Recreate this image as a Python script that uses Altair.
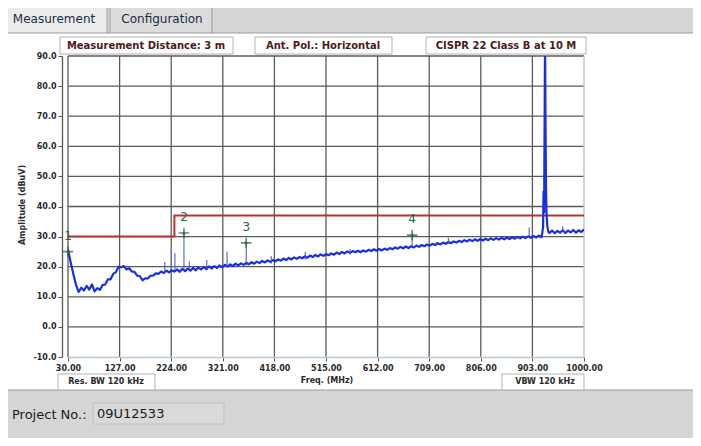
import altair as alt
import pandas as pd

# ---------------- data ----------------
X_TICKS = [30, 127, 224, 321, 418, 515, 612, 709, 806, 903, 1000]
Y_TICKS = [-10, 0, 10, 20, 30, 40, 50, 60, 70, 80, 90]

# sweep 30..920 MHz, 5 MHz steps (peak-detector trace, noisy)
TRACE_LOW_MHZ = list(range(30, 921, 5))
TRACE_LOW_DBUV = [
    25.6, 21.5, 17.6, 14.0, 11.6, 13.0, 12.1, 13.6, 12.4, 14.1,
    11.8, 12.9, 12.3, 13.9, 14.1, 15.8, 15.8, 17.6, 18.2, 20.0,
    19.8, 20.2, 19.1, 19.5, 18.4, 18.3, 17.0, 16.9, 15.5, 16.1,
    16.1, 17.0, 17.0, 17.8, 17.6, 18.4, 17.9, 18.7, 18.1, 18.8,
    18.4, 19.1, 18.3, 19.3, 18.5, 19.4, 18.7, 19.6, 18.8, 19.7,
    19.1, 19.9, 19.2, 20.1, 19.4, 20.2, 19.6, 20.4, 19.8, 20.6,
    20.0, 20.8, 20.2, 21.0, 20.4, 21.1, 20.6, 21.3, 20.8, 21.5,
    21.0, 21.7, 21.2, 21.9, 21.4, 22.1, 21.6, 22.2, 21.8, 22.4,
    22.0, 22.7, 22.2, 22.9, 22.4, 23.1, 22.6, 23.2, 22.8, 23.4,
    23.0, 23.7, 23.2, 23.9, 23.4, 24.1, 23.6, 24.2, 23.8, 24.4,
    24.0, 24.7, 24.2, 24.9, 24.4, 25.1, 24.6, 25.2, 24.8, 25.3,
    24.8, 25.4, 25.0, 25.6, 25.2, 25.8, 25.3, 25.9, 25.4, 26.0,
    25.6, 26.2, 25.8, 26.4, 26.0, 26.6, 26.1, 26.7, 26.2, 26.8,
    26.4, 27.0, 26.6, 27.2, 26.8, 27.4, 27.0, 27.6, 27.2, 27.8,
    27.4, 28.0, 27.6, 28.2, 27.8, 28.4, 28.0, 28.6, 28.2, 28.8,
    28.4, 29.0, 28.5, 29.1, 28.6, 29.2, 28.7, 29.3, 28.8, 29.4,
    28.9, 29.5, 29.0, 29.6, 29.1, 29.7, 29.2, 29.8, 29.3, 29.9,
    29.4, 30.0, 29.5, 30.1, 29.6, 30.2, 29.7, 30.3, 29.8,
]
# the carrier near 927 MHz
PEAK_MHZ = [921, 923, 924, 925, 926, 926.8, 927.6, 928.5, 929.5, 931, 933]
PEAK_DBUV = [30.6, 33.0, 45.0, 38.0, 70.0, 96.0, 70.0, 48.0, 38.0, 33.5, 31.6]
# sweep 935..1000 MHz
TRACE_HIGH_MHZ = list(range(935, 1001, 5))
TRACE_HIGH_DBUV = [31.2, 32.0, 31.1, 31.9, 31.3, 32.1, 31.2, 32.0, 31.4, 32.2,
                   31.3, 32.1, 31.5, 32.4]

# narrow spurious spikes on the trace
SPIKE_MHZ = [212, 231, 248, 258, 291, 329, 365, 412, 476, 560, 677, 745, 897, 960]
SPIKE_BASE = [18.0, 18.4, 18.8, 19.0, 19.2, 19.8, 20.3, 21.0, 22.3, 24.0, 26.3, 27.6, 30.0, 31.5]
SPIKE_TOP = [21.6, 24.5, 31.2, 21.8, 22.2, 25.0, 27.9, 23.6, 25.0, 25.9, 30.5, 29.6, 33.0, 33.4]

# CISPR 22 class B limit (10 m)
LIMIT_MHZ = [30, 230, 230, 1000]
LIMIT_DBUV = [30, 30, 37, 37]

MARKER_MHZ = [30, 248, 365, 677]
MARKER_DBUV = [25.0, 31.2, 27.9, 30.5]
MARKER_LABEL = ["1", "2", "3", "4"]

HEADER_TEXT = ["Measurement Distance: 3 m", "Ant. Pol.: Horizontal", "CISPR 22 Class B at 10 M"]
FOOTER_TEXT = ["Res. BW 120 kHz", "VBW 120 kHz"]
TAB_TEXT = ["Measurement", "Configuration"]
PROJECT_LABEL = "Project No.:"
PROJECT_VALUE = "09U12533"
X_TITLE = "Freq. (MHz)"
Y_TITLE = "Amplitude (dBuV)"

# ---------------- chart ----------------
W, H = 516, 301
FONT = "DejaVu Sans"
xs = alt.Scale(domain=[30, 1000], nice=False, zero=False)
ys = alt.Scale(domain=[-10, 90], nice=False, zero=False)
x_axis = alt.Axis(
    values=X_TICKS, format=".2f", title=None, grid=False, zindex=1,
    labelFont=FONT, labelFontSize=8, labelFontWeight="bold", labelColor="#2a2a2a",
    labelFlush=False, labelOverlap=False, labelBound=False, labelPadding=3,
    domainColor="#b9c8d4", domainWidth=1.5, tickColor="#555555", tickSize=4)
y_axis = alt.Axis(
    values=Y_TICKS, format=".1f", title=None, grid=False, zindex=1, offset=6,
    labelExpr="replace(datum.label, '\u2212', '-')",
    labelFont=FONT, labelFontSize=8, labelFontWeight="bold", labelColor="#2a2a2a",
    labelOverlap=False, labelPadding=2,
    domainColor="#555555", domainWidth=1.3, tickColor="#555555", tickSize=4)


def X(field):
    return alt.X(field, type="quantitative", scale=xs, axis=x_axis)


def Y(field):
    return alt.Y(field, type="quantitative", scale=ys, axis=y_axis)


one = pd.DataFrame({"k": [0]})


def box(x1, y1, x2, y2, fill, stroke="#9c9c9c", sw=1):
    return alt.Chart(one).mark_rect(fill=fill, stroke=stroke, strokeWidth=sw).encode(
        x=alt.value(x1), x2=alt.value(x2), y=alt.value(y1), y2=alt.value(y2))


def label(txt, x, y, **kw):
    return alt.Chart(one).mark_text(text=txt, font=FONT, **kw).encode(
        x=alt.value(x), y=alt.value(y))


deco = [
    box(-63, -50, 39, -20, "#ececec"),
    box(42, -50, 144, -20, "#dcdcdc"),
    box(-63, -23, 627, 334, "#ffffff"),
    label(TAB_TEXT[0], -14, -37, fontSize=12, color="#1c2a48"),
    label(TAB_TEXT[1], 94, -37, fontSize=12, color="#1c2a48"),
    box(-8, -19, 165, -2, "#ffffff", "#b0b0b0"),
    box(187, -19, 324, -2, "#ffffff", "#b0b0b0"),
    box(358, -19, 518, -2, "#ffffff", "#b0b0b0"),
    label(HEADER_TEXT[0], 78, -10, fontSize=10, fontWeight="bold", color="#4d1a1a"),
    label(HEADER_TEXT[1], 255, -10, fontSize=10, fontWeight="bold", color="#4d1a1a"),
    label(HEADER_TEXT[2], 438, -10, fontSize=10, fontWeight="bold", color="#4d1a1a"),
    box(-10, 318, 87, 334, "#ffffff", "#b0b0b0"),
    box(434, 318, 516, 334, "#ffffff", "#b0b0b0"),
    label(FOOTER_TEXT[0], 38, 326, fontSize=8, fontWeight="bold", color="#2a2a2a"),
    label(FOOTER_TEXT[1], 477, 326, fontSize=8, fontWeight="bold", color="#2a2a2a"),
    label(X_TITLE, 259, 325, fontSize=8, fontWeight="bold", color="#2a2a2a"),
    label(Y_TITLE, -45, 149, fontSize=8, fontWeight="bold", color="#2a2a2a", angle=270),
    box(25, 347, 156, 368, "#d9d9d9", "#bfbfbf"),
    label(PROJECT_LABEL, -56, 359, fontSize=13, color="#1a1a1a", align="left"),
    label(PROJECT_VALUE, 29, 358, fontSize=13, color="#1a1a1a", align="left"),
]

xgrid = alt.Chart(pd.DataFrame({"f": X_TICKS[:-1]})).mark_rule(
    color="#5a5a5a", strokeWidth=1.3).encode(x=X("f"))
ygrid = alt.Chart(pd.DataFrame({"a": Y_TICKS[1:]})).mark_rule(
    color="#5a5a5a", strokeWidth=1.3).encode(y=Y("a"))
xedge = alt.Chart(pd.DataFrame({"f": X_TICKS[-1:]})).mark_rule(
    color="#b9c8d4", strokeWidth=1.5).encode(x=X("f"))

limit = alt.Chart(pd.DataFrame({"f": LIMIT_MHZ, "a": LIMIT_DBUV, "i": range(len(LIMIT_MHZ))})).mark_line(
    color="#b5372b", strokeWidth=2).encode(x=X("f"), y=Y("a"), order="i:Q")

trace_df = pd.DataFrame({
    "f": TRACE_LOW_MHZ + PEAK_MHZ + TRACE_HIGH_MHZ,
    "a": TRACE_LOW_DBUV + PEAK_DBUV + TRACE_HIGH_DBUV,
})
trace = alt.Chart(trace_df).mark_line(color="#1a2fdc", strokeWidth=2.2, clip=True,
                                      strokeJoin="round").encode(x=X("f"), y=Y("a"))

spikes = alt.Chart(pd.DataFrame({"f": SPIKE_MHZ, "b": SPIKE_BASE, "t": SPIKE_TOP})).mark_rule(
    color="#3a4fe0", strokeWidth=1).encode(x=X("f"), y=Y("b"), y2="t:Q")

mk_df = pd.DataFrame({"f": MARKER_MHZ, "a": MARKER_DBUV, "l": MARKER_LABEL})
markers = alt.Chart(mk_df).mark_point(
    shape="M-1,0H1M0,-1V1", size=110, color="#2f5f3f", strokeWidth=1.6, filled=False).encode(
    x=X("f"), y=Y("a"))
mcenter = alt.Chart(mk_df).mark_point(
    shape="diamond", size=16, color="#2f5f3f", filled=True).encode(x=X("f"), y=Y("a"))
mlabels = alt.Chart(mk_df).mark_text(
    font=FONT, fontSize=12, color="#2f5f3f", dy=-16).encode(x=X("f"), y=Y("a"), text="l:N")

chart = alt.layer(
    *deco, xgrid, ygrid, xedge, limit, trace, spikes, markers, mcenter, mlabels
).properties(
    width=W, height=H,
    autosize=alt.AutoSizeParams(type="none"),
    padding={"left": 60, "top": 48, "right": 109, "bottom": 81},
    background="#d5d5d5",
).configure_view(stroke=None)

chart.save("out.html", embed_options={"renderer": "svg", "actions": False})
